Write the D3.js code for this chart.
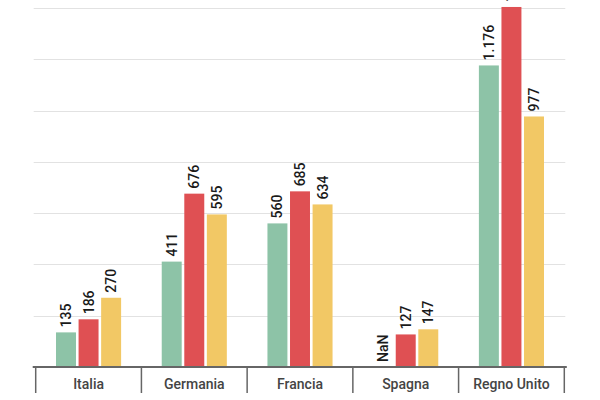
<!DOCTYPE html>
<html>
<head>
<meta charset="utf-8">
<script src="https://cdn.jsdelivr.net/npm/d3@7"></script>
<style>
  body { margin: 0; background: #fff; }
  svg { display: block; font-family: Roboto, 'Noto Sans', sans-serif; }
</style>
</head>
<body>
<svg id="chart"></svg>
<script>
// dati
const categorie = ['Italia', 'Germania', 'Francia', 'Spagna', 'Regno Unito'];
const serie = ['verde', 'rosso', 'giallo'];
const valoriVerde = [135, 411, 560, NaN, 1176];
const valoriRosso = [186, 676, 685, 127, 1404];
const valoriGiallo = [270, 595, 634, 147, 977];
const colori = ['#8dc3a7', '#df5053', '#f2c865'];
const gridTicks = [200, 400, 600, 800, 1000, 1200, 1400];

const width = 600;
const height = 400;
const margin = { top: 8, right: 35.7, bottom: 33, left: 35.7 };

const svg = d3.select('#chart')
  .attr('width', width)
  .attr('height', height);

const valori = [valoriVerde, valoriRosso, valoriGiallo];
const righe = categorie.map((c, i) => ({
  cat: c,
  vals: serie.map((s, j) => ({ serie: s, col: colori[j], v: valori[j][i] }))
}));

// scale
const x0 = d3.scaleBand()
  .domain(categorie)
  .range([margin.left, width - margin.right]);

const x1 = d3.scaleBand()
  .domain(serie)
  .range([0, x0.bandwidth()])
  .paddingInner(0.115)
  .paddingOuter(0.9);

const y = d3.scaleLinear()
  .domain([0, 1400])
  .range([height - margin.bottom, margin.top]);

const fmt = d3.formatLocale({ decimal: ',', thousands: '.', grouping: [3], currency: ['€', ''] }).format(',d');

// griglia
svg.append('g')
  .selectAll('line')
  .data(gridTicks)
  .enter().append('line')
  .attr('x1', margin.left - 2)
  .attr('x2', width - margin.right + 1)
  .attr('y1', d => Math.round(y(d)) + 0.5)
  .attr('y2', d => Math.round(y(d)) + 0.5)
  .style('stroke', '#e2e2e2')
  .style('stroke-width', 1);

// barre
const gruppi = svg.selectAll('.gruppo')
  .data(righe)
  .enter().append('g')
  .attr('class', 'gruppo')
  .attr('transform', d => `translate(${x0(d.cat)},0)`);

const h0 = v => (isNaN(v) ? 0 : v);

gruppi.selectAll('rect')
  .data(d => d.vals)
  .enter().append('rect')
  .attr('x', d => x1(d.serie))
  .attr('width', x1.bandwidth())
  .attr('y', d => y(h0(d.v)))
  .attr('height', d => y(0) - y(h0(d.v)))
  .style('fill', d => d.col);

gruppi.selectAll('text')
  .data(d => d.vals)
  .enter().append('text')
  .attr('transform', d => `translate(${x1(d.serie) + x1.bandwidth() / 2},${y(h0(d.v)) - 5}) rotate(-90)`)
  .attr('dy', '0.36em')
  .style('text-anchor', 'start')
  .style('font-size', '14px')
  .style('font-weight', 500)
  .style('fill', '#1a1a1a')
  .text(d => fmt(d.v));

// asse x
const xAxis = d3.axisBottom(x0).tickSize(0).tickPadding(12);
const gx = svg.append('g')
  .attr('transform', `translate(0,${y(0)})`)
  .call(xAxis);
gx.select('.domain').remove();
gx.selectAll('text')
  .style('font-size', '14px')
  .style('font-weight', 500)
  .style('font-family', 'Roboto, sans-serif')
  .style('fill', '#444');

const confini = categorie.map(c => x0(c)).concat([x0.range()[1]]);
gx.selectAll('.sep')
  .data(confini)
  .enter().append('line')
  .attr('class', 'sep')
  .attr('x1', d => d)
  .attr('x2', d => d)
  .attr('y1', 0)
  .attr('y2', 26)
  .style('stroke', '#666')
  .style('stroke-width', 1.5);

gx.append('line')
  .attr('x1', margin.left - 3)
  .attr('x2', width - margin.right + 2.5)
  .attr('y1', 0)
  .attr('y2', 0)
  .style('stroke', '#666')
  .style('stroke-width', 2);
</script>
</body>
</html>
